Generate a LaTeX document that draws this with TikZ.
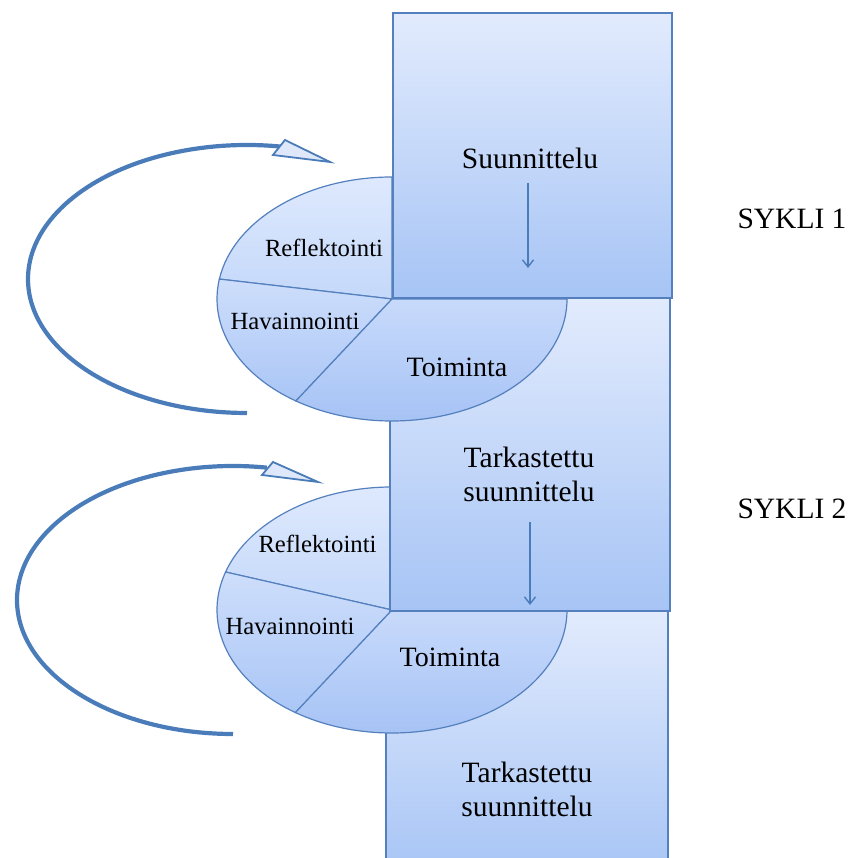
\documentclass[tikz,border=0pt]{standalone}
\usepackage{fontspec}
\setmainfont{Liberation Serif}
\usetikzlibrary{arrows.meta}
\definecolor{edge}{RGB}{84,128,190}
\definecolor{loopblue}{RGB}{74,124,186}
\definecolor{boxtop}{RGB}{226,235,253}
\definecolor{boxbot}{RGB}{166,196,245}
\definecolor{headfill}{RGB}{222,232,250}
\tikzset{
  box/.style={draw=edge, line width=2pt, top color=boxtop, bottom color=boxbot},
  slicea/.style={draw=edge, line width=1.2pt, top color={rgb,255:red,222;green,233;blue,253}, bottom color={rgb,255:red,196;green,216;blue,250}},
  sliceb/.style={draw=edge, line width=1.2pt, top color={rgb,255:red,206;green,222;blue,251}, bottom color={rgb,255:red,170;green,198;blue,246}},
  slicec/.style={draw=edge, line width=1.2pt, top color={rgb,255:red,200;green,218;blue,251}, bottom color={rgb,255:red,162;green,192;blue,244}},
  loop/.style={draw=loopblue, line width=4.2pt},
  loophead/.style={draw=loopblue, line width=1.8pt, fill=headfill, line join=miter},
  flow/.style={draw=loopblue, line width=1.4pt, -{Straight Barb[length=7pt,width=11pt]}},
  big/.style={inner sep=0pt, font=\fontsize{29.5}{34}\selectfont, align=center},
  mid/.style={inner sep=0pt, font=\fontsize{28}{32}\selectfont},
  small/.style={inner sep=0pt, font=\fontsize{24.7}{28}\selectfont},
}
\begin{document}
\begin{tikzpicture}[x=1pt,y=1pt]
\useasboundingbox (0,0) rectangle (849,858);
\begin{scope}
\clip (0,0) rectangle (849,858);

% lowest plan box
\path[box] (386,247) rectangle (668,-20);

% second cycle pie
\coordinate (c2) at (392,248);
\path[slicea] (c2) -- ++(90:175 and 123) arc[start angle=90, end angle=162, x radius=175, y radius=123] -- cycle;
\path[sliceb] (c2) -- ++(162:175 and 123) arc[start angle=162, end angle=236.5, x radius=175, y radius=123] -- cycle;
\path[slicec] (c2) -- ++(236.5:175 and 123) arc[start angle=236.5, end angle=360, x radius=175, y radius=123] -- cycle;

% revised plan box
\path[box] (390,560) rectangle (670,247);

% first cycle pie
\coordinate (c1) at (392,559);
\path[slicea] (c1) -- ++(90:175 and 122) arc[start angle=90, end angle=170.6, x radius=175, y radius=122] -- cycle;
\path[sliceb] (c1) -- ++(170.6:175 and 122) arc[start angle=170.6, end angle=236.7, x radius=175, y radius=122] -- cycle;
\path[slicec] (c1) -- ++(236.7:175 and 122) arc[start angle=236.7, end angle=360, x radius=175, y radius=122] -- cycle;

% planning box
\path[box] (393,845) rectangle (672,560);
\end{scope}

% labels
\node[big] (plan1) at (530,700) {Suunnittelu};
\node[small] (refl1) at (324,610) {Reflektointi};
\node[small] (hav1) at (295,537) {Havainnointi};
\node[mid] (toim1) at (457,491) {Toiminta};
\node[big] (plan2) at (529,384) {Tarkastettu\\suunnittelu};
\node[small] (refl2) at (317.5,314) {Reflektointi};
\node[small] (hav2) at (290,232) {Havainnointi};
\node[mid] (toim2) at (450,201) {Toiminta};
\node[big] (plan3) at (527,69) {Tarkastettu\\suunnittelu};
\node[big] (cyc1) at (792,639) {SYKLI 1};
\node[big] (cyc2) at (792,349) {SYKLI 2};

% plan -> action arrows
\coordinate (f1s) at (528,675);
\coordinate (f1e) at (528,590);
\draw[flow] (f1s) -- (f1e);
\coordinate (f2s) at (530,336);
\coordinate (f2e) at (530,253);
\draw[flow] (f2s) -- (f2e);

% cycle loops
\coordinate (l1s) at (247,445);
\draw[loop] (l1s) arc[start angle=270, end angle=81, x radius=219, y radius=134];
\coordinate (h1tip) at (330,696);
\coordinate (h1a) at (285,718);
\coordinate (h1b) at (273,703);
\path[loophead] (h1tip) -- (h1a) -- (h1b) -- cycle;

\coordinate (l2s) at (233,124);
\draw[loop] (l2s) arc[start angle=270, end angle=81, x radius=216, y radius=134];
\coordinate (h2tip) at (318,376);
\coordinate (h2a) at (273,396);
\coordinate (h2b) at (262,383);
\path[loophead] (h2tip) -- (h2a) -- (h2b) -- cycle;
\end{tikzpicture}
\end{document}
